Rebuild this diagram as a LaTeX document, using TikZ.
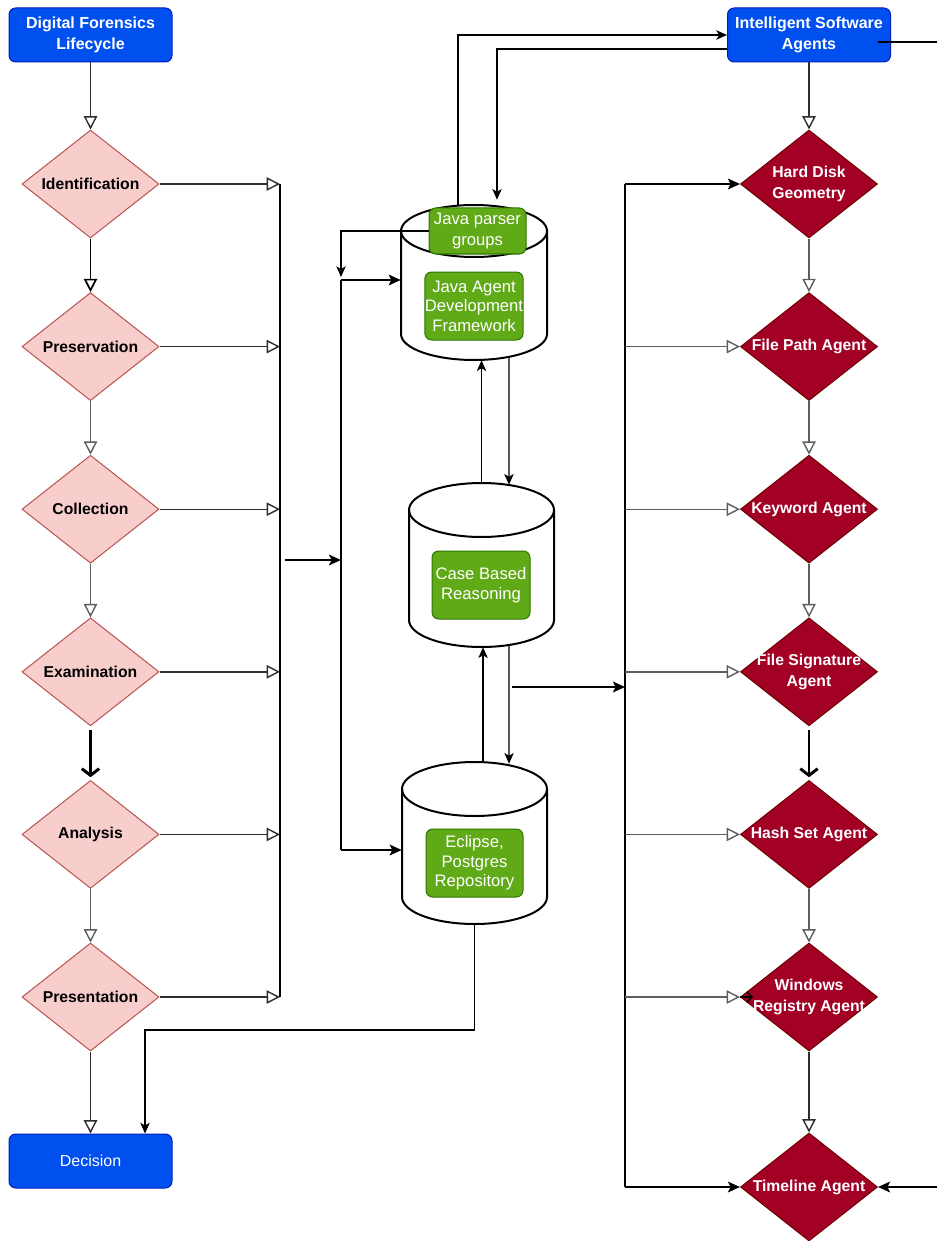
\documentclass[tikz,border=0pt]{standalone}
\usepackage{fontspec}
\setmainfont{Liberation Sans}
\usetikzlibrary{shapes.geometric,arrows.meta,calc}
\definecolor{dfblue}{HTML}{0050EF}
\definecolor{dfbluel}{HTML}{001DBC}
\definecolor{pinkf}{HTML}{F8CECC}
\definecolor{pinkd}{HTML}{B85450}
\definecolor{crim}{HTML}{A20025}
\definecolor{crimd}{HTML}{6F0000}
\definecolor{grnf}{HTML}{60A917}
\definecolor{grnd}{HTML}{2D7600}
\definecolor{dg}{HTML}{2E2E2E}
\definecolor{mg}{HTML}{5E5E5E}
\tikzset{
 bluebox/.style={rectangle, rounded corners=5pt, fill=dfblue, draw=dfbluel, line width=0.75pt,
   minimum width=122.25pt, minimum height=40.5pt, text=white, align=center, inner sep=0pt,
   font=\fontsize{12}{15.75}\selectfont\bfseries},
 pdiam/.style={diamond, fill=pinkf, draw=pinkd, line width=0.75pt, minimum width=102.75pt, minimum height=81pt, inner sep=0pt},
 cdiam/.style={diamond, fill=crim, draw=crimd, line width=0.75pt, minimum width=102.75pt, minimum height=81pt, inner sep=0pt},
 dtext/.style={align=center, inner sep=0pt, font=\fontsize{11.8}{15.75}\selectfont\bfseries},
 wtext/.style={dtext, text=white},
 greenbox/.style={rectangle, rounded corners=5pt, fill=grnf, draw=grnd, line width=0.75pt, text=white,
   align=center, inner sep=0pt, font=\fontsize{12.5}{14.6}\selectfont},
 cylframe/.style={rectangle, draw=none, inner sep=0pt},
 cylst/.style={draw=black, line width=1.5pt},
 openarr/.style={draw=dg, line width=1.05pt, -{Triangle[open, fill=white, length=10pt, width=10pt]}},
 filarr/.style={draw=black, line width=1.05pt, -{Stealth[length=8pt, width=7pt, inset=2pt]}},
 filthick/.style={draw=black, line width=1.8pt, -{Stealth[length=9pt, width=8pt, inset=2pt]}},
 thickline/.style={draw=black, line width=1.8pt},
 thinline/.style={draw=black, line width=1.05pt},
 thickv/.style={draw=black, line width=2.2pt, shorten <=3pt, shorten >=2pt, -{Straight Barb[length=5pt, width=13pt]}},
 smallv/.style={draw=black, line width=1.05pt, -{Straight Barb[length=4pt, width=8pt]}}
}
\newcommand\drawcyl[5]{%
 \pgfmathsetmacro\cylcx{(#1+#2)/2}%
 \pgfmathsetmacro\cylrx{(#2-#1)/2}%
 \draw[cylst] (#1,#3+#5) -- (#1,#4-#5) arc[start angle=180, end angle=0, x radius=\cylrx, y radius=#5] -- (#2,#3+#5);
 \draw[cylst] (\cylcx,#3+#5) ellipse[x radius=\cylrx, y radius=#5];
}
\begin{document}
\begin{tikzpicture}[x=0.75pt, y=-0.75pt]
\clip (0,0) rectangle (937,1241);
\fill[white] (0,0) rectangle (937,1241);

% ---- blue boxes
\node[bluebox] (dfl) at (90.5,35) {Digital Forensics\\Lifecycle};
\node[bluebox] (isa) at (809,35) {Intelligent Software\\Agents};
\node[bluebox, font=\fontsize{12}{15.75}\selectfont] (dec) at (90.5,1161) {Decision};

% ---- left diamonds
\node[pdiam] (idf) at (90.5,184) {};   \node[dtext] (idfT) at (idf) {Identification};
\node[pdiam] (prs) at (90.5,346.6) {}; \node[dtext] (prsT) at (prs) {Preservation};
\node[pdiam] (col) at (90.5,509.2) {}; \node[dtext] (colT) at (col) {Collection};
\node[pdiam] (exa) at (90.5,671.8) {}; \node[dtext] (exaT) at (exa) {Examination};
\node[pdiam] (ana) at (90.5,834.4) {}; \node[dtext] (anaT) at (ana) {Analysis};
\node[pdiam] (pre) at (90.5,997) {};   \node[dtext] (preT) at (pre) {Presentation};

% ---- right diamonds
\node[cdiam] (hdg) at (809,184) {};   \node[wtext] (hdgT) at (hdg) {Hard Disk\\Geometry};
\node[cdiam] (fpa) at (809,346.6) {}; \node[wtext] (fpaT) at (fpa) {File Path Agent};
\node[cdiam] (kwa) at (809,509.2) {}; \node[wtext] (kwaT) at (kwa) {Keyword Agent};
\node[cdiam] (fsa) at (809,671.8) {}; \node[wtext] (fsaT) at (fsa) {File Signature\\Agent};
\node[cdiam] (hsa) at (809,834.4) {}; \node[wtext] (hsaT) at (hsa) {Hash Set Agent};
\node[cdiam] (wra) at (809,997) {};   \node[wtext] (wraT) at (wra) {Windows\\Registry Agent};
\node[cdiam] (tla) at (809,1187) {};  \node[wtext] (tlaT) at (tla) {Timeline Agent};

% ---- cylinders
\node[cylframe, minimum width=109.5pt, minimum height=116.25pt] (cA) at (474,282.5) {};
\node[cylframe, minimum width=108.75pt, minimum height=123pt] (cB) at (481.5,565) {};
\node[cylframe, minimum width=108.75pt, minimum height=121.5pt] (cC) at (474.5,843) {};
\drawcyl{401}{547}{205}{360}{26}
\drawcyl{409}{554}{483}{647}{27}
\drawcyl{402}{547}{762}{924}{27}

% ---- coordinates
\coordinate (lb1) at (280,184); \coordinate (lb2) at (280,997);
\coordinate (la) at (285,560);
\coordinate (b2t) at (341,277); \coordinate (b2a) at (341,280); \coordinate (b2b) at (341,850);
\coordinate (m1) at (512,687);
\coordinate (rb1) at (625,184); \coordinate (rb2) at (625,1187);
\coordinate (j1) at (145,1030);
\coordinate (rr1) at (945,42); \coordinate (rr2) at (945,1187);
\coordinate (wv) at (753,997);

% ---- green boxes
\node[greenbox, minimum width=72.75pt, minimum height=34.5pt, font=\fontsize{12.5}{15.75}\selectfont] (jp) at (477.5,231) {Java parser\\groups};
\node[greenbox, minimum width=73.5pt, minimum height=51pt] (jadf) at (474,306) {Java Agent\\Development\\Framework};
\node[greenbox, minimum width=73.5pt, minimum height=51pt] (cbr) at (481,585) {Case Based\\Reasoning};
\node[greenbox, minimum width=72.75pt, minimum height=51pt] (epr) at (474.5,863) {Eclipse,\\Postgres\\Repository};

\draw[filarr] (jp.west) -| (b2t);

% ---- left chain
\draw[openarr] (dfl) -- (idf);
\draw[openarr, draw=black, line width=1.3pt] (idf) -- (prs);
\draw[openarr, draw=mg] (prs) -- (col);
\draw[openarr, draw=mg] (col) -- (exa);
\draw[thickv] (exa) -- (ana);
\draw[openarr, draw=mg] (ana) -- (pre);
\draw[openarr] (pre) -- (dec);

% ---- left bus
\foreach \n in {idf,prs,col,exa,ana,pre}
  \draw[openarr] (\n.east) -- (\n.east -| lb1);
\draw[thinline] (lb1) -- (lb2);
\draw[filthick] (la) -- (la -| b2a);

% ---- middle bus
\draw[thickline] (b2a) -- (b2b);
\draw[filthick] (b2a) -- (b2a -| cA.west);
\draw[filthick] (b2b) -- (b2b -| cC.west);

% ---- cylinder links
\draw[filarr] (cB.north) -- (cB.north |- cA.south);
\draw[filarr] ([xshift=26.25pt,yshift=2.25pt]cA.south) -- ([xshift=20.6pt,yshift=-1.5pt]cB.north);
\draw[filarr] ([xshift=6.4pt]cC.north) -- ([xshift=6.4pt]cC.north |- cB.south);
\draw[filarr] ([xshift=20.6pt,yshift=1.5pt]cB.south) -- ([xshift=25.9pt,yshift=-1.5pt]cC.north);
\draw[filthick] (m1) -- (m1 -| rb1);
\draw[filarr] (cC.south) |- (j1) -- (j1 |- dec.north);
\draw[filarr] ([xshift=-12pt]cA.north) |- (isa.west);
\draw[filarr] ([yshift=-10.5pt]isa.west) -| ([xshift=17.25pt,yshift=3.75pt]cA.north);

% ---- right side
\draw[openarr] (isa) -- (hdg);
\draw[thickline] (rb1) -- (rb2);
\draw[filthick] (rb1) -- (hdg.west);
\draw[filthick] (rb2) -- (tla.west);
\draw[filthick] ([xshift=-10pt,yshift=-5.25pt]isa.east) -- (rr1) -- (rr2) -- (tla.east);
\foreach \n in {fpa,kwa,fsa,hsa,wra}
  \draw[openarr, draw=mg] (\n.west -| rb1) -- (\n.west);
\draw[smallv] (wra.west) -- (wv);
\draw[openarr, draw=mg] (hdg) -- (fpa);
\draw[openarr, draw=mg] (fpa) -- (kwa);
\draw[openarr, draw=mg] (kwa) -- (fsa);
\draw[thickv] (fsa) -- (hsa);
\draw[openarr, draw=mg] (hsa) -- (wra);
\draw[openarr] (wra) -- (tla);
\end{tikzpicture}
\end{document}
